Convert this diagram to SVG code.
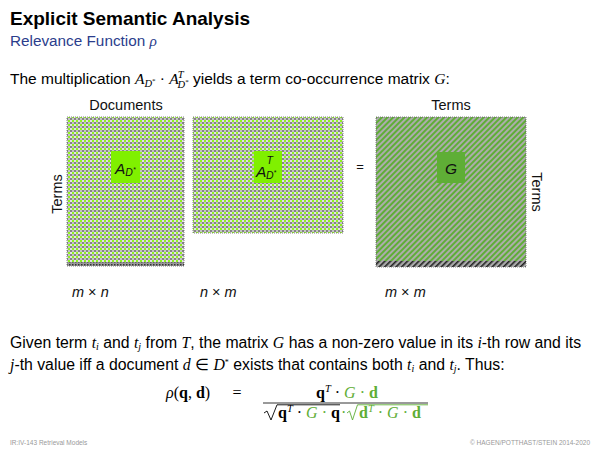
<svg xmlns="http://www.w3.org/2000/svg" width="600" height="450" viewBox="0 0 600 450">
<style>
.sans{font-family:"Liberation Sans",Arial,sans-serif;fill:#000}
.serif{font-family:"Liberation Serif","Times New Roman",serif}
.mi{font-family:"Liberation Serif","Times New Roman",serif;font-style:italic}
.lbl{font-family:"Liberation Sans",Arial,sans-serif;font-size:14.5px;fill:#111}
.it{font-style:italic}
.grn{fill:#5fae36}
.foot{font-family:"Liberation Sans",Arial,sans-serif;font-size:6.5px;fill:#999}
.mat{stroke:#666;stroke-width:0.8;stroke-dasharray:1 1}
</style>
<defs>
<pattern id="dots" width="4" height="4" patternUnits="userSpaceOnUse">
<rect width="4" height="4" fill="#c4c4c4"/>
<rect x="0" y="0" width="2" height="2" fill="#8ef020"/>
<rect x="2" y="2" width="2" height="2" fill="#858585"/>
<rect x="2" y="0" width="2" height="2" fill="#e2e2e2"/>
</pattern>
<pattern id="dotsDark" width="3" height="3" patternUnits="userSpaceOnUse">
<rect width="3" height="3" fill="#999"/>
<rect width="1.5" height="1.5" fill="#333"/>
</pattern>
<pattern id="stripes" width="4" height="4" patternUnits="userSpaceOnUse" patternTransform="rotate(45)">
<rect width="4" height="4" fill="#acacac"/>
<rect width="2" height="4" fill="#5fae36"/>
</pattern>
<pattern id="hatchDark" width="4" height="4" patternUnits="userSpaceOnUse" patternTransform="rotate(45)">
<rect width="4" height="4" fill="#aaa"/>
<rect width="1.6" height="4" fill="#222"/>
</pattern>
</defs>

<text class="sans" x="10" y="25" font-size="19" font-weight="bold">Explicit Semantic Analysis</text>
<text class="sans" x="10" y="46" font-size="15.3" style="fill:#2b3d8c">Relevance Function <tspan class="mi">ρ</tspan></text>

<text class="sans" x="10" y="84" font-size="15.5">The multiplication <tspan class="mi">A</tspan><tspan class="mi" font-size="10.5" dy="3">D</tspan><tspan class="serif" font-size="7" dy="-4">*</tspan><tspan dy="1"> </tspan><tspan class="serif">·</tspan><tspan> </tspan><tspan class="mi">A</tspan><tspan class="mi" font-size="10.5" dy="-6" dx="-1">T</tspan><tspan class="mi" font-size="10.5" dy="10" dx="-6">D</tspan><tspan class="serif" font-size="7" dy="-4">*</tspan><tspan dy="0"> yields a term co-occurrence matrix </tspan><tspan class="mi">G</tspan>:</text>

<g id="matrix-A">
<rect class="mat" x="67" y="117" width="117" height="149" fill="url(#dots)"/>
<rect x="67" y="262" width="117" height="4" fill="url(#dotsDark)"/>
<rect x="111" y="151" width="29" height="32" fill="#80f000"/>
<text class="lbl it" x="115" y="174" style="font-size:15.5px">A<tspan style="font-size:10.5px" dy="2">D</tspan><tspan style="font-size:7px" dy="-4">*</tspan></text>
</g>
<g id="matrix-AT">
<rect class="mat" x="193" y="117" width="150" height="116" fill="url(#dots)"/>
<rect x="254" y="151" width="28" height="32" fill="#80f000"/>
<text class="lbl it" x="256" y="177" style="font-size:15.5px">A</text>
<text class="lbl it" x="266.5" y="164" style="font-size:10.5px">T</text>
<text class="lbl it" x="266" y="179" style="font-size:10.5px">D<tspan style="font-size:7px" dy="-4">*</tspan></text>
</g>
<g id="matrix-G">
<rect class="mat" x="376" y="117" width="150" height="150" fill="url(#stripes)"/>
<rect x="376" y="261" width="150" height="6" fill="url(#hatchDark)"/>
<rect x="437" y="152" width="28" height="31" fill="#5fae36"/>
<text class="lbl it" x="451" y="174" text-anchor="middle" style="font-size:15.5px">G</text>
</g>

<g id="labels">
<text class="lbl" x="126" y="110" text-anchor="middle">Documents</text>
<text class="lbl" x="451" y="110" text-anchor="middle">Terms</text>
<text class="lbl" transform="translate(62,194) rotate(-90)" text-anchor="middle">Terms</text>
<text class="lbl" transform="translate(532,192) rotate(90)" text-anchor="middle">Terms</text>
<text class="lbl" x="360" y="171" text-anchor="middle" style="font-size:13px">=</text>
<text class="lbl" x="72" y="297"><tspan class="it">m</tspan> × <tspan class="it">n</tspan></text>
<text class="lbl" x="200" y="297"><tspan class="it">n</tspan> × <tspan class="it">m</tspan></text>
<text class="lbl" x="385" y="297"><tspan class="it">m</tspan> × <tspan class="it">m</tspan></text>
</g>

<text class="sans" x="10" y="348" font-size="15.8">Given term <tspan class="mi">t</tspan><tspan class="mi" font-size="10" dy="2">i</tspan><tspan dy="-2"> and </tspan><tspan class="mi">t</tspan><tspan class="mi" font-size="10" dy="2">j</tspan><tspan dy="-2"> from </tspan><tspan class="mi">T</tspan>, the matrix <tspan class="mi">G</tspan> has a non-zero value in its <tspan class="mi">i</tspan>-th row and its</text>
<text class="sans" x="10" y="370" font-size="15.8"><tspan class="mi">j</tspan>-th value iff a document <tspan class="mi">d</tspan> <tspan class="serif">∈</tspan> <tspan class="mi">D</tspan><tspan class="serif" font-size="8" dy="-5">*</tspan><tspan dy="5"> exists that contains both </tspan><tspan class="mi">t</tspan><tspan class="mi" font-size="10" dy="2">i</tspan><tspan dy="-2"> and </tspan><tspan class="mi">t</tspan><tspan class="mi" font-size="10" dy="2">j</tspan><tspan dy="-2">. Thus:</tspan></text>

<g id="formula" class="serif" font-size="16">
<text x="166" y="398"><tspan class="mi">ρ</tspan>(<tspan font-weight="bold">q</tspan>, <tspan font-weight="bold">d</tspan>)</text>
<text x="237" y="398" text-anchor="middle">=</text>
<text x="316" y="398"><tspan font-weight="bold">q</tspan><tspan class="mi" font-size="10.5" dy="-6">T</tspan><tspan dy="6"> · </tspan><tspan class="mi grn">G</tspan><tspan class="grn"> · </tspan><tspan class="grn" font-weight="bold">d</tspan></text>
<line x1="263" y1="403" x2="428" y2="403" stroke="#000" stroke-width="0.8"/>
<path d="M264,413 L267,411 L271,420 L277,404.8 L340,404.8" fill="none" stroke="#000" stroke-width="0.9"/>
<text x="278" y="418"><tspan font-weight="bold">q</tspan><tspan class="mi" font-size="10.5" dy="-6">T</tspan><tspan dy="6"> · </tspan><tspan class="mi grn">G</tspan><tspan class="grn"> · </tspan><tspan font-weight="bold">q</tspan></text>
<text x="341" y="418" class="grn">·</text>
<path d="M347,413 L349.5,411 L352.5,420 L357.5,404.8 L428,404.8" fill="none" stroke="#5fae36" stroke-width="0.9"/>
<text x="359" y="418" class="grn"><tspan font-weight="bold">d</tspan><tspan class="mi" font-size="10.5" dy="-6">T</tspan><tspan dy="6"> · </tspan><tspan class="mi">G</tspan><tspan> · </tspan><tspan font-weight="bold">d</tspan></text>
</g>

<text class="foot" x="10" y="445">IR:IV-143   Retrieval Models</text>
<text class="foot" x="590" y="445" text-anchor="end">© HAGEN/POTTHAST/STEIN 2014-2020</text>
</svg>
